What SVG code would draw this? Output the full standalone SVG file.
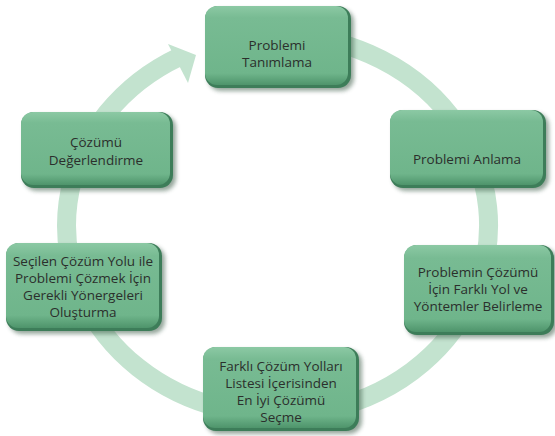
<svg xmlns="http://www.w3.org/2000/svg" width="555" height="436" viewBox="0 0 555 436">
<defs>
<linearGradient id="g" x1="0" y1="0" x2="0" y2="1">
<stop offset="0" stop-color="#8cc9a4"/>
<stop offset="0.15" stop-color="#78bb93"/>
<stop offset="0.85" stop-color="#6fb58b"/>
<stop offset="1" stop-color="#4e946b"/>
</linearGradient>
<filter id="sh" x="-10%" y="-10%" width="130%" height="140%">
<feGaussianBlur stdDeviation="2"/>
</filter>
<style>
.ring{fill:none;stroke:#c3e3cf;stroke-width:19}
.arr{fill:#c3e3cf}
.shadow{fill:#3f5f4c;opacity:0.55;filter:url(#sh)}
.edge{fill:#3d7d59}
.box{fill:url(#g)}
text{font-family:"Open Sans","DejaVu Sans",sans-serif;font-size:13.5px;fill:#2b2f2c;text-anchor:middle}
</style>
</defs>
<rect width="555" height="436" fill="#ffffff"/>
<g id="connectors">
<path class="ring" d="M 277 35 A 211 190 0 1 1 179 57"/>
<polygon class="arr" points="168,44 196,55 188,83"/>
</g>
<g id="n1">
<rect class="shadow" x="208" y="9" width="146" height="82" rx="13"/>
<rect class="edge" x="205" y="6" width="146" height="82" rx="13"/>
<rect class="box" x="205" y="6" width="143" height="79" rx="12"/>
<text x="277" y="50">Problemi</text>
<text x="277" y="67">Tanımlama</text>
</g>
<g id="n2">
<rect class="shadow" x="393" y="113" width="156" height="78" rx="13"/>
<rect class="edge" x="390" y="110" width="156" height="78" rx="13"/>
<rect class="box" x="390" y="110" width="153" height="75" rx="12"/>
<text x="467" y="164">Problemi Anlama</text>
</g>
<g id="n3">
<rect class="shadow" x="407" y="248" width="150" height="90" rx="13"/>
<rect class="edge" x="404" y="245" width="150" height="90" rx="13"/>
<rect class="box" x="404" y="245" width="147" height="87" rx="12"/>
<text x="478" y="277">Problemin Çözümü</text>
<text x="478" y="294">İçin Farklı Yol ve</text>
<text x="478" y="311">Yöntemler Belirleme</text>
</g>
<g id="n4">
<rect class="shadow" x="206" y="350" width="156" height="84" rx="13"/>
<rect class="edge" x="203" y="347" width="156" height="84" rx="13"/>
<rect class="box" x="203" y="347" width="153" height="81" rx="12"/>
<text x="281" y="371">Farklı Çözüm Yolları</text>
<text x="281" y="388">Listesi İçerisinden</text>
<text x="281" y="405">En İyi Çözümü</text>
<text x="281" y="422">Seçme</text>
</g>
<g id="n5">
<rect class="shadow" x="9" y="246" width="156" height="88" rx="13"/>
<rect class="edge" x="6" y="243" width="156" height="88" rx="13"/>
<rect class="box" x="6" y="243" width="153" height="85" rx="12"/>
<text x="83" y="266">Seçilen Çözüm Yolu ile</text>
<text x="83" y="283">Problemi Çözmek İçin</text>
<text x="83" y="300">Gerekli Yönergeleri</text>
<text x="83" y="317">Oluşturma</text>
</g>
<g id="n6">
<rect class="shadow" x="24" y="115" width="152" height="76" rx="13"/>
<rect class="edge" x="21" y="112" width="152" height="76" rx="13"/>
<rect class="box" x="21" y="112" width="149" height="73" rx="12"/>
<text x="96" y="147">Çözümü</text>
<text x="96" y="165">Değerlendirme</text>
</g>
</svg>
